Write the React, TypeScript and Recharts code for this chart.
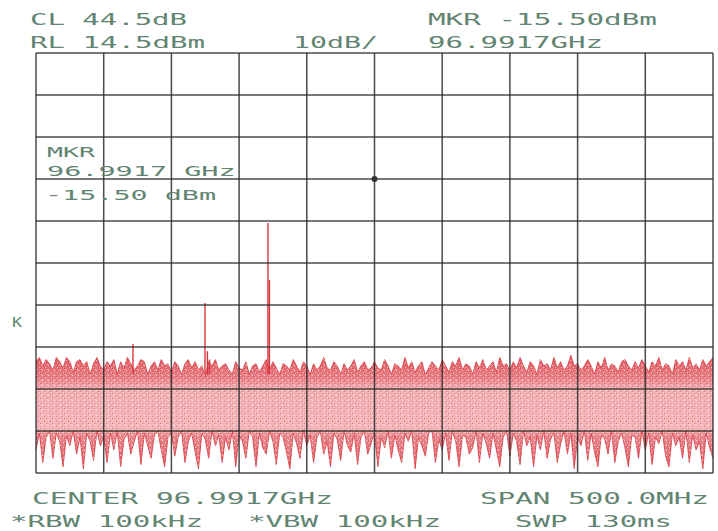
import {
  Area,
  CartesianGrid,
  ComposedChart,
  ReferenceDot,
  ReferenceLine,
  XAxis,
  YAxis,
} from "recharts";

// frequency offsets from the 96.9917 GHz centre, MHz (500 MHz span, 50 MHz/div)
const FREQ_TICKS = [-250, -200, -150, -100, -50, 0, 50, 100, 150, 200, 250];
// RL 14.5 dBm at the top, 10 dB/div
const LEVEL_TICKS = [-85.5, -75.5, -65.5, -55.5, -45.5, -35.5, -25.5, -15.5, -5.5, 4.5, 14.5];

const SWEEP_START = -250;
const SWEEP_STEP = 2.5;

// upper edge of the noise floor, dBm
const NOISE_TOP = [
  -59, -58, -60, -58.5, -59.5, -61, -58, -59, -60.5, -58, -59, -61.5, -59, -58.5, -60, -59, -62, -59.5, -58, -60,
  -61, -59, -60, -58.5, -62, -59, -60.5, -58, -59.5, -61, -60, -58.5, -59, -62, -60, -59, -61, -58.5, -60, -59.5,
  -61.5, -59, -60, -62, -59.5, -58.5, -60.5, -59, -61, -60, -62.5, -59, -60, -58.5, -61, -60, -59.5, -61, -62, -59,
  -60.5, -61, -59, -62, -60, -59.5, -61.5, -60, -58.5, -61, -59, -60.5, -62, -59.5, -60, -61, -58.5, -60, -61.5, -59,
  -60, -62, -59.5, -61, -60, -58, -60.5, -61, -59, -60, -62, -59.5, -61, -60, -58.5, -61.5, -60, -59, -61, -60.5,
  -59, -60.5, -61, -58.5, -60, -62, -59.5, -60, -61, -58, -60.5, -59, -61.5, -60, -59, -62, -60.5, -59, -60, -61,
  -58.5, -60, -61.5, -59, -60, -58, -61, -59.5, -60, -62, -59, -60.5, -58.5, -61, -60, -59, -61.5, -58, -60, -59.5,
  -61, -59, -60.5, -58, -60, -61.5, -59, -60, -62, -58.5, -60, -59.5, -61, -58, -60.5, -59, -61, -60, -57.5, -60,
  -59.5, -61, -60, -58.5, -60, -62, -59, -60.5, -58, -61, -59.5, -60, -61.5, -59, -58.5, -60, -61, -59, -60.5, -58.5,
  -60, -61.5, -59, -60, -58, -61, -59.5, -60, -62, -58.5, -60, -59, -61, -58, -60.5, -59.5, -61, -58.5, -60, -59,
  -58,
];

// lower edge of the noise floor, dBm
const NOISE_BOTTOM = [
  -80, -76, -83, -77, -75.5, -82, -76, -78, -84, -76.5, -79, -75.5, -81, -77, -84.5, -76, -78, -82.5, -75.5, -79,
  -77, -83, -76, -80, -75.5, -84, -77.5, -76, -81, -78, -75.5, -83.5, -76, -79, -82, -76.5, -75.5, -80, -84, -77,
  -76, -81.5, -77, -75.5, -83, -78, -76, -80.5, -84.5, -76, -77.5, -82, -75.5, -79, -76.5, -83, -77, -80, -75.5, -84,
  -76.5, -78, -82, -75.5, -77, -84, -76, -79.5, -81, -75.5, -78, -83.5, -76, -77, -80.5, -84.5, -76, -78.5, -82, -75.5,
  -79, -76.5, -83, -77, -75.5, -81, -78, -84, -76, -77.5, -82.5, -75.5, -79, -80.5, -76, -83.5, -77, -75.5, -81, -78.5,
  -76, -84, -77, -79.5, -75.5, -82, -76.5, -80, -83, -76, -78, -75.5, -84.5, -77, -79, -81.5, -76, -75.5, -83, -77.5,
  -80, -76, -82.5, -75.5, -78, -84, -76.5, -77, -81, -79.5, -75.5, -83, -76, -78.5, -82, -76, -80, -84, -77, -75.5,
  -81.5, -76, -78, -83.5, -75.5, -79, -77, -84, -76.5, -80, -75.5, -82, -77.5, -76, -83, -78.5, -75.5, -81, -76, -84.5,
  -77, -79, -75.5, -82.5, -76, -80.5, -84, -76.5, -77.5, -81, -75.5, -83, -78, -76, -79.5, -84, -76.5, -77, -82, -75.5,
  -80, -76, -83.5, -77, -78.5, -75.5, -81.5, -84, -76, -79, -77, -82, -75.5, -83, -76.5, -80, -78, -84.5, -76, -79.5,
  -82,
];

// discrete spurs standing above the floor
const SPUR_FREQS = [-178.4, -125.2, -123.4, -121.8, -78.7, -77.6];
const SPUR_LEVELS = [-54.8, -45, -56.5, -58.5, -26, -39.5];
const SPUR_FOOT = -62;

const MARKER_FREQ = 0;
const MARKER_LEVEL = -15.5;

const TOP_LABELS = ["CL 44.5dB", "RL 14.5dBm", "10dB/", "MKR -15.50dBm", "96.9917GHz"];
const BOTTOM_LABELS = ["CENTER 96.9917GHz", "SPAN 500.0MHz", "*RBW 100kHz", "*VBW 100kHz", "SWP 130ms"];
const MARKER_LABELS = ["MKR", "96.9917 GHz", "-15.50 dBm"];

const W = 718;
const H = 531;
const MARGIN = { top: 53, right: 5, bottom: 58, left: 36 };
const TEXT = "#628571";
const RED = "#d8363e";
const GRID = "#2a2a2a";

const data = NOISE_TOP.map((top, i) => ({
  f: SWEEP_START + i * SWEEP_STEP,
  band: [NOISE_BOTTOM[i], top],
}));

function Label({ x, y, text, pitch = 18, size = 16 }: { x: number; y: number; text: string; pitch?: number; size?: number }) {
  return (
    <text
      x={x}
      y={y}
      fill={TEXT}
      fontFamily="'DejaVu Sans Mono', monospace"
      fontSize={size}
      textLength={text.length * pitch - pitch * 0.28}
      lengthAdjust="spacingAndGlyphs"
    >
      {text}
    </text>
  );
}

// same scales in both layers, so the graticule layer sits exactly on the trace layer
function Axes() {
  return [
    <XAxis
      key="x"
      dataKey="f"
      type="number"
      domain={[FREQ_TICKS[0], FREQ_TICKS[FREQ_TICKS.length - 1]]}
      ticks={FREQ_TICKS}
      allowDataOverflow
      hide
    />,
    <YAxis
      key="y"
      type="number"
      domain={[LEVEL_TICKS[0], LEVEL_TICKS[LEVEL_TICKS.length - 1]]}
      ticks={LEVEL_TICKS}
      allowDataOverflow
      hide
    />,
  ];
}

const layer = { position: "absolute" as const, left: 0, top: 0 };

export default function App() {
  return (
    <div style={{ ...layer, width: W, height: H, background: "#fff" }}>
      <div style={layer}>
        <ComposedChart width={W} height={H} data={data} margin={MARGIN}>
          <defs>
            <linearGradient id="floorFill" gradientUnits="userSpaceOnUse" x1="0" y1="353" x2="0" y2="475">
              <stop offset="0.02" stopColor="#d8343c" stopOpacity={0.8} />
              <stop offset="0.2" stopColor="#de4850" stopOpacity={0.7} />
              <stop offset="0.3" stopColor="#ec8a8e" stopOpacity={0.68} />
              <stop offset="0.62" stopColor="#ee9397" stopOpacity={0.68} />
              <stop offset="0.68" stopColor="#e05a60" stopOpacity={0.72} />
              <stop offset="1" stopColor="#d83a44" stopOpacity={0.8} />
            </linearGradient>
            <pattern id="speckle" width="6" height="5" patternUnits="userSpaceOnUse">
              <rect x="0" y="0" width="1" height="1" fill="#fff" fillOpacity={0.7} />
              <rect x="3" y="2" width="1" height="1" fill="#fff" fillOpacity={0.6} />
              <rect x="5" y="4" width="1" height="1" fill="#fff" fillOpacity={0.5} />
              <rect x="2" y="1" width="1" height="1" fill="#c21f2a" fillOpacity={0.4} />
              <rect x="4" y="3" width="1" height="1" fill="#c21f2a" fillOpacity={0.4} />
            </pattern>
          </defs>
          {Axes()}
          <Area
            dataKey="band"
            type="linear"
            stroke={RED}
            strokeWidth={0.8}
            fill="url(#floorFill)"
            fillOpacity={1}
            isAnimationActive={false}
            dot={false}
            activeDot={false}
          />
          <Area
            dataKey="band"
            type="linear"
            stroke="none"
            fill="url(#speckle)"
            fillOpacity={1}
            isAnimationActive={false}
            dot={false}
            activeDot={false}
          />
          {SPUR_FREQS.map((f, i) => (
            <ReferenceLine
              key={f}
              segment={[
                { x: f, y: SPUR_FOOT },
                { x: f, y: SPUR_LEVELS[i] },
              ]}
              stroke={RED}
              strokeWidth={1.4}
            />
          ))}
        </ComposedChart>
      </div>
      {/* graticule layer drawn over the trace, as on the plotter output */}
      <div style={{ ...layer, pointerEvents: "none" }}>
        <ComposedChart width={W} height={H} data={data} margin={MARGIN}>
          {Axes()}
          <CartesianGrid stroke={GRID} strokeWidth={1.5} strokeOpacity={0.85} />
          <ReferenceDot x={MARKER_FREQ} y={MARKER_LEVEL} r={3} fill="#333" stroke="none" />
        </ComposedChart>
      </div>
      <svg width={W} height={H} style={{ ...layer, pointerEvents: "none" }}>
        <Label x={30} y={25} text={TOP_LABELS[0]} />
        <Label x={30} y={48} text={TOP_LABELS[1]} />
        <Label x={293} y={48} text={TOP_LABELS[2]} />
        <Label x={428} y={25} text={TOP_LABELS[3]} />
        <Label x={428} y={48} text={TOP_LABELS[4]} />
        <Label x={32} y={504} text={BOTTOM_LABELS[0]} />
        <Label x={480} y={504} text={BOTTOM_LABELS[1]} />
        <Label x={10} y={527} text={BOTTOM_LABELS[2]} />
        <Label x={248} y={527} text={BOTTOM_LABELS[3]} />
        <Label x={515} y={527} text={BOTTOM_LABELS[4]} />
        <Label x={47} y={157} text={MARKER_LABELS[0]} pitch={17.6} size={14} />
        <Label x={47} y={176} text={MARKER_LABELS[1]} pitch={17.6} size={14} />
        <Label x={45} y={200} text={MARKER_LABELS[2]} pitch={17.6} size={14} />
        <Label x={12} y={327} text="K" pitch={14} size={14} />
      </svg>
    </div>
  );
}
